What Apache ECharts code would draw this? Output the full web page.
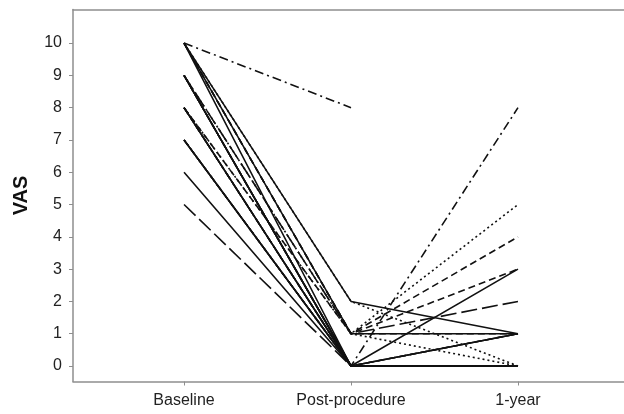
<!DOCTYPE html>
<html>
<head>
<meta charset="utf-8">
<script src="https://cdn.jsdelivr.net/npm/echarts@6/dist/echarts.min.js"></script>
<style>html,body{margin:0;padding:0;background:#fff}#c{width:624px;height:414px}</style>
</head>
<body>
<div id="c"></div>
<script>
var categories = ['Baseline', 'Post-procedure', '1-year'];
var yTicks = [0, 1, 2, 3, 4, 5, 6, 7, 8, 9, 10];
var baseline = [10, 10, 10, 10, 10, 10, 10, 9, 9, 9, 9, 9, 9, 8, 8, 8, 8, 8, 8, 7, 7, 7, 7, 6, 5];
var postProcedure = [8, 2, 2, 1, 1, 0, 1, 1, 0, 1, 0, 0, 0, 1, 0, 1, 0, 0, 0, 0, 0, 0, 0, 0, 0];
var oneYear = [null, 1, 0, 1, 4, 0, 1, 2, 0, 5, 3, 0, 1, 3, 8, 0, 1, 0, 0, 0, 1, 0, 0, 0, 0];
var lineTypes = ['dashdot', 'solid', 'dotted', 'solid', 'dashed', 'solid', 'dashed', 'longdash', 'solid', 'dotted',
                 'solid', 'dashed', 'solid', 'dashed', 'dashdot', 'dotted', 'solid', 'solid', 'dashed', 'solid',
                 'dashed', 'dotted', 'solid', 'solid', 'longdash'];

var dashMap = {
  solid: 'solid',
  dotted: [2, 3],
  dashed: [7, 4],
  longdash: [16, 5],
  dashdot: [9, 4, 2, 4]
};

var series = baseline.map(function (b, i) {
  return {
    type: 'line',
    data: [[0, b], [1, postProcedure[i]], [2, oneYear[i]]],
    symbol: 'none',
    connectNulls: false,
    silent: true,
    lineStyle: { color: '#111', width: 1.6, type: dashMap[lineTypes[i]] }
  };
});

var frame = { color: '#8e8e8e', width: 1.5 };
var font = 'Liberation Sans, Arial, sans-serif';

var chart = echarts.init(document.getElementById('c'));
chart.setOption({
  animation: false,
  backgroundColor: '#fff',
  grid: { left: 73, right: 0, top: 9.5, bottom: 32.5, show: false },
  xAxis: [{
    type: 'value',
    min: -0.665, max: 2.635,
    splitLine: { show: false },
    axisLine: { show: true, onZero: false, lineStyle: frame },
    axisTick: { show: true, length: 4, lineStyle: { color: '#8e8e8e' }, customValues: [0, 1, 2] },
    axisLabel: {
      customValues: [0, 1, 2],
      formatter: function (v) { return categories[Math.round(v)]; },
      fontFamily: font, fontSize: 16, color: '#222', margin: 11
    }
  }, {
    type: 'value', position: 'top',
    min: -0.665, max: 2.635,
    splitLine: { show: false },
    axisLine: { show: true, onZero: false, lineStyle: frame },
    axisTick: { show: false },
    axisLabel: { show: false }
  }],
  yAxis: {
    type: 'value',
    min: -0.48, max: 11.04,
    name: 'VAS', nameLocation: 'middle', nameGap: 42,
    nameTextStyle: { fontFamily: font, fontSize: 20, fontWeight: 'bold', color: '#111' },
    splitLine: { show: false },
    axisLine: { show: true, onZero: false, lineStyle: frame },
    axisTick: { show: true, length: 4, lineStyle: { color: '#8e8e8e' }, customValues: yTicks },
    axisLabel: {
      customValues: yTicks,
      fontFamily: font, fontSize: 16, color: '#222', margin: 11
    }
  },
  series: series
});
</script>
</body>
</html>
